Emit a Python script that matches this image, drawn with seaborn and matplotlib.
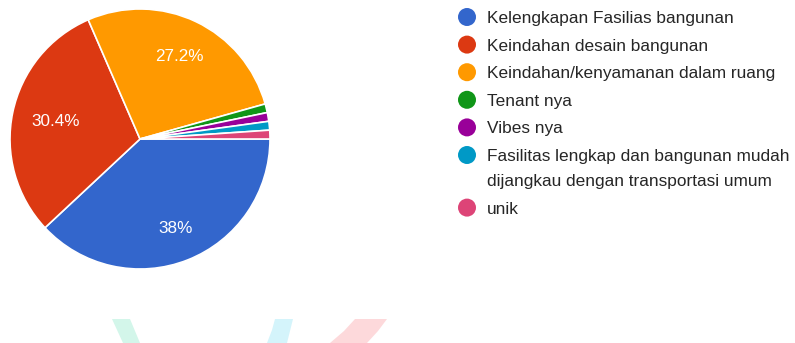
import matplotlib
matplotlib.use("Agg")
import numpy as np
import matplotlib.pyplot as plt
import seaborn as sns
from matplotlib.patches import Polygon

# Survey answers (92 responses)
categories = [
    "Kelengkapan Fasilias bangunan",
    "Keindahan desain bangunan",
    "Keindahan/kenyamanan dalam ruang",
    "Tenant nya",
    "Vibes nya",
    "Fasilitas lengkap dan bangunan mudah\ndijangkau dengan transportasi umum",
    "unik",
]
counts = [35, 28, 25, 1, 1, 1, 1]
colors = ["#3366cc", "#dc3912", "#ff9900", "#109618", "#990099", "#0099c6", "#dd4477"]

sns.set_theme(style="white")
plt.rcParams["font.family"] = ["Liberation Sans", "DejaVu Sans"]

W, H = 795, 343
fig = plt.figure(figsize=(W / 100, H / 100), dpi=100)
fig.patch.set_facecolor("white")

# faint decorative strokes along the bottom edge
deco = fig.add_axes([0, 0, 1, 1], zorder=0)
deco.set_xlim(0, W)
deco.set_ylim(H, 0)
deco.axis("off")
deco.add_patch(Polygon([(112, 319), (130, 319), (140, 343), (123, 343)],
                       closed=True, facecolor="#d3f6ea", edgecolor="none"))
deco.add_patch(Polygon([(275, 319), (293, 319), (287, 343), (267, 343), (272, 330)],
                       closed=True, facecolor="#d4f4fb", edgecolor="none"))
deco.add_patch(Polygon([(355, 319), (387, 319), (378, 331), (367, 343),
                        (330, 343), (344, 331)],
                       closed=True, facecolor="#fdd9db", edgecolor="none"))

# pie
cx, cy, r = 140, 139, 130
ax = fig.add_axes([(cx - r) / W, (H - cy - r) / H, 2 * r / W, 2 * r / H], zorder=1)
palette = sns.color_palette(colors)
wedges, _ = ax.pie(counts, colors=palette, startangle=0, counterclock=False,
                   radius=1.0,
                   wedgeprops=dict(edgecolor="white", linewidth=1.2))
ax.set_xlim(-1, 1)
ax.set_ylim(-1, 1)
ax.set_aspect("equal")
ax.axis("off")

total = sum(counts)
label_dist = [0.74, 0.66, 0.70]
k = 0
for w, c in zip(wedges, counts):
    pct = 100 * c / total
    if pct < 5:
        continue
    mid = np.deg2rad((w.theta1 + w.theta2) / 2)
    d = label_dist[k]
    k += 1
    ax.text(d * np.cos(mid), d * np.sin(mid), f"{round(pct, 1):g}%",
            color="white", fontsize=12.3, ha="center", va="center")

# legend
lg = fig.add_axes([0, 0, 1, 1], zorder=2)
lg.set_xlim(0, W)
lg.set_ylim(H, 0)
lg.axis("off")
y = 17
row_step = 27.6
line_step = 25
for name, col in zip(categories, colors):
    lg.scatter([467], [y], s=168, color=col, edgecolors="none")
    lines = name.split("\n")
    for j, line in enumerate(lines):
        lg.text(487, y + j * line_step + 6, line, fontsize=12.4, color="#262626",
                ha="left", va="baseline")
    y += row_step + line_step * (len(lines) - 1)

fig.savefig("out.png", dpi=100, facecolor="white")
